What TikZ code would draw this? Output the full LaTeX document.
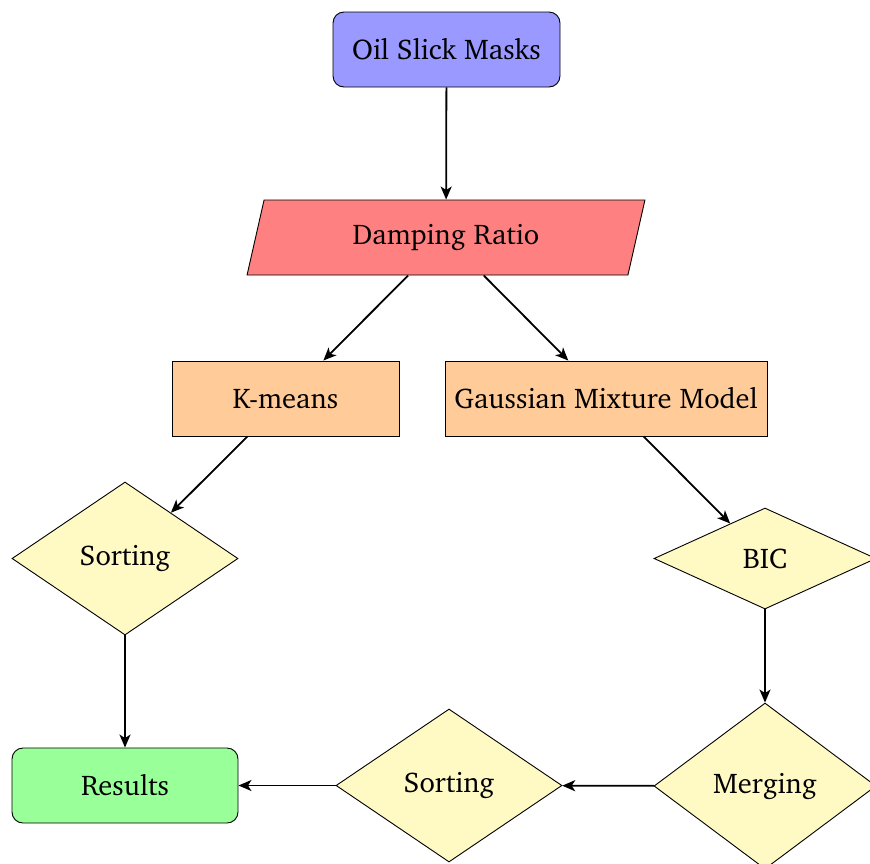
\documentclass[tikz,border=0pt]{standalone}
\usepackage[T1]{fontenc}
\usepackage{charter}
\usetikzlibrary{shapes.geometric,arrows.meta}
\definecolor{cblue}{HTML}{9999FF}
\definecolor{cred}{HTML}{FF8080}
\definecolor{corange}{HTML}{FFCC99}
\definecolor{cyel}{HTML}{FFF9C4}
\definecolor{cgreen}{HTML}{99FF99}
\tikzset{
  base/.style={draw=black, line width=0.9pt, font=\fontsize{28.5}{34}\selectfont, inner sep=0pt, align=center},
  roundbox/.style={base, rectangle, rounded corners=11pt},
  plainbox/.style={base, rectangle},
  slantbox/.style={base, trapezium, trapezium left angle=71.6, trapezium right angle=108.4, trapezium stretches=true},
  decbox/.style={base, diamond, aspect=1.5},
  conn/.style={line width=1.8pt, -{Stealth[length=13pt,width=11pt,inset=3.5pt]}},
}
\begin{document}
\begin{tikzpicture}[x=1pt,y=-1pt]
\useasboundingbox (0,0) rectangle (870,863);
\node[roundbox, fill=cblue, minimum width=227pt, minimum height=75pt] (oil) at (446.5,49.5) {Oil Slick Masks};
\node[slantbox, fill=cred, minimum width=398pt, minimum height=75pt] (damp) at (446,237.5) {Damping Ratio};
\node[plainbox, fill=corange, minimum width=227pt, minimum height=75pt] (km) at (285.5,398.5) {K-means};
\node[plainbox, fill=corange, minimum width=322pt, minimum height=75pt] (gmm) at (606,398.5) {Gaussian Mixture Model};
\node[decbox, fill=cyel, minimum width=226pt, minimum height=153pt] (sort1) at (125,558.5) {Sorting};
\node[decbox, fill=cyel, minimum width=222pt, minimum height=101pt] (bic) at (765,558.5) {BIC};
\node[roundbox, fill=cgreen, minimum width=226pt, minimum height=75pt] (res) at (125,785.5) {Results};
\node[decbox, fill=cyel, minimum width=226pt, minimum height=153pt] (sort2) at (449,785.5) {Sorting};
\node[decbox, fill=cyel, minimum width=222pt, minimum height=166pt] (merge) at (765,786) {Merging};
\draw[conn] (oil) -- (damp);
\draw[conn] (damp) -- (km);
\draw[conn] (damp) -- (gmm);
\draw[conn] (km) -- (sort1);
\draw[conn] (gmm) -- (bic);
\draw[conn] (sort1) -- (res);
\draw[conn] (bic) -- (merge);
\draw[conn] (merge) -- (sort2);
\draw[conn] (sort2) -- (res);
\end{tikzpicture}
\end{document}
